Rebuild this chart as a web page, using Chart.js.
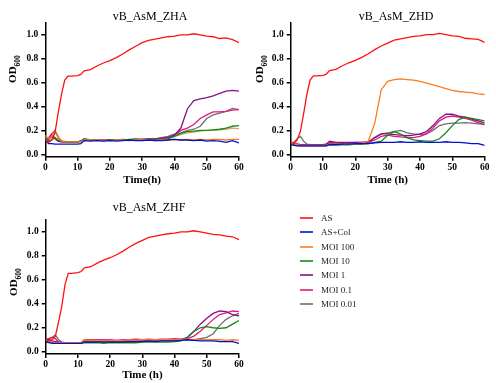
<!DOCTYPE html>
<html>
<head>
<meta charset="utf-8">
<script src="https://cdn.jsdelivr.net/npm/chart.js@4/dist/chart.umd.min.js"></script>
<style>
    body { margin: 0; background: #fff; }
    #wrap { position: relative; width: 496px; height: 383px; overflow: hidden; font-family: "Liberation Serif", serif; color: #000; }
    canvas { position: absolute; }
    .ttl { position: absolute; width: 200px; text-align: center; font-size: 12px; line-height: 14px; }
    .ylab { position: absolute; transform: translate(-50%, -50%) rotate(-90deg); font-size: 11px; font-weight: bold; white-space: nowrap; }
    .ylab sub { font-size: 7.5px; }
    .leg { position: absolute; left: 300px; font-size: 9px; line-height: 12px; }
    .leg span.ln { position: absolute; left: 0; top: 5px; width: 13px; height: 2px; opacity: 0.8; }
    .leg span.tx { position: absolute; left: 21px; top: 0; white-space: nowrap; color: #222; }
</style>
</head>
<body>
<div id="wrap">
    <canvas id="c1" width="248" height="190" style="left:0;top:0"></canvas>
    <canvas id="c2" width="248" height="190" style="left:248px;top:0"></canvas>
    <canvas id="c3" width="248" height="193" style="left:0;top:190px"></canvas>
    <div class="ttl" style="left:50px;top:9px">vB_AsM_ZHA</div>
    <div class="ttl" style="left:296px;top:9px">vB_AsM_ZHD</div>
    <div class="ttl" style="left:49px;top:200px">vB_AsM_ZHF</div>
    <div class="ylab" style="left:14px;top:69px">OD<sub>600</sub></div>
    <div class="ylab" style="left:261px;top:69px">OD<sub>600</sub></div>
    <div class="ylab" style="left:15px;top:282px">OD<sub>600</sub></div>
    <div id="legend"></div>
</div>
<script>
// time points (h)
const T = [0, 1, 2, 3, 4, 5, 6, 7, 8, 10, 11, 12, 14, 16, 18, 20, 22, 24, 26, 28, 30, 32, 34, 36, 38, 40, 42, 44, 46, 48, 50, 52, 54, 56, 58, 60];
const X_TICKS = [0, 10, 20, 30, 40, 50, 60];
const Y_TICKS = [0, 0.2, 0.4, 0.6, 0.8, 1.0];
const SERIES = ['AS', 'AS+Col', 'MOI 100', 'MOI 10', 'MOI 1', 'MOI 0.1', 'MOI 0.01'];

// vB_AsM_ZHA
const ZHA_AS = [0.12, 0.10, 0.12, 0.18, 0.35, 0.50, 0.62, 0.655, 0.655, 0.66, 0.67, 0.70, 0.71, 0.74, 0.765, 0.785, 0.81, 0.84, 0.875, 0.905, 0.935, 0.955, 0.965, 0.975, 0.985, 0.99, 1.0, 1.0, 1.01, 1.0, 0.99, 0.985, 0.97, 0.975, 0.96, 0.935];
const ZHA_COL = [0.12, 0.09, 0.09, 0.085, 0.085, 0.085, 0.085, 0.085, 0.085, 0.085, 0.09, 0.115, 0.11, 0.115, 0.11, 0.115, 0.11, 0.115, 0.12, 0.115, 0.115, 0.12, 0.115, 0.115, 0.12, 0.125, 0.12, 0.12, 0.115, 0.12, 0.11, 0.115, 0.11, 0.10, 0.115, 0.095];
const ZHA_M100 = [0.16, 0.13, 0.15, 0.19, 0.14, 0.11, 0.105, 0.105, 0.105, 0.105, 0.105, 0.12, 0.12, 0.12, 0.12, 0.115, 0.12, 0.12, 0.115, 0.12, 0.12, 0.12, 0.115, 0.12, 0.12, 0.125, 0.12, 0.125, 0.12, 0.125, 0.12, 0.125, 0.125, 0.12, 0.125, 0.125];
const ZHA_M10 = [0.14, 0.11, 0.12, 0.14, 0.12, 0.11, 0.105, 0.105, 0.105, 0.105, 0.11, 0.13, 0.12, 0.12, 0.115, 0.12, 0.12, 0.12, 0.125, 0.13, 0.12, 0.125, 0.125, 0.125, 0.13, 0.15, 0.175, 0.19, 0.195, 0.2, 0.2, 0.205, 0.21, 0.22, 0.235, 0.24];
const ZHA_M1 = [0.13, 0.12, 0.15, 0.13, 0.11, 0.105, 0.105, 0.105, 0.105, 0.105, 0.11, 0.125, 0.12, 0.12, 0.12, 0.12, 0.12, 0.125, 0.12, 0.125, 0.125, 0.13, 0.13, 0.135, 0.14, 0.16, 0.22, 0.38, 0.45, 0.465, 0.475, 0.49, 0.51, 0.53, 0.535, 0.53];
const ZHA_M01 = [0.12, 0.14, 0.17, 0.14, 0.11, 0.105, 0.105, 0.105, 0.105, 0.105, 0.11, 0.125, 0.12, 0.12, 0.12, 0.12, 0.12, 0.12, 0.12, 0.125, 0.125, 0.125, 0.13, 0.13, 0.14, 0.16, 0.2, 0.22, 0.25, 0.3, 0.33, 0.355, 0.355, 0.36, 0.37, 0.375];
const ZHA_M001 = [0.13, 0.13, 0.17, 0.2, 0.14, 0.11, 0.105, 0.105, 0.105, 0.105, 0.11, 0.12, 0.12, 0.12, 0.12, 0.12, 0.12, 0.12, 0.12, 0.12, 0.125, 0.125, 0.13, 0.14, 0.15, 0.17, 0.18, 0.2, 0.21, 0.235, 0.3, 0.33, 0.345, 0.36, 0.385, 0.375];
const ZHA_EXTRA = [0.15, 0.13, 0.16, 0.2, 0.15, 0.115, 0.11, 0.105, 0.105, 0.105, 0.11, 0.12, 0.12, 0.12, 0.12, 0.12, 0.12, 0.12, 0.12, 0.12, 0.125, 0.125, 0.125, 0.13, 0.14, 0.15, 0.165, 0.18, 0.185, 0.195, 0.2, 0.2, 0.205, 0.21, 0.22, 0.215];

// vB_AsM_ZHD
const ZHD_AS = [0.10, 0.09, 0.12, 0.19, 0.34, 0.50, 0.62, 0.655, 0.655, 0.66, 0.67, 0.70, 0.71, 0.74, 0.765, 0.785, 0.81, 0.84, 0.875, 0.905, 0.93, 0.955, 0.965, 0.975, 0.985, 0.99, 1.0, 1.0, 1.01, 1.0, 0.99, 0.985, 0.97, 0.965, 0.96, 0.935];
const ZHD_COL = [0.08, 0.075, 0.07, 0.07, 0.07, 0.07, 0.07, 0.07, 0.07, 0.07, 0.07, 0.08, 0.08, 0.085, 0.085, 0.09, 0.09, 0.09, 0.095, 0.1, 0.1, 0.1, 0.105, 0.1, 0.1, 0.105, 0.1, 0.1, 0.1, 0.105, 0.1, 0.1, 0.095, 0.09, 0.09, 0.075];
const ZHD_M100 = [0.10, 0.09, 0.08, 0.075, 0.075, 0.075, 0.075, 0.075, 0.075, 0.075, 0.075, 0.08, 0.085, 0.085, 0.085, 0.09, 0.095, 0.11, 0.26, 0.54, 0.61, 0.625, 0.63, 0.625, 0.62, 0.61, 0.595, 0.58, 0.565, 0.55, 0.535, 0.525, 0.52, 0.515, 0.505, 0.5];
const ZHD_M10 = [0.09, 0.08, 0.075, 0.07, 0.07, 0.07, 0.07, 0.07, 0.07, 0.07, 0.07, 0.08, 0.08, 0.08, 0.08, 0.085, 0.085, 0.09, 0.1, 0.11, 0.16, 0.19, 0.17, 0.14, 0.12, 0.115, 0.11, 0.11, 0.13, 0.18, 0.24, 0.29, 0.31, 0.3, 0.29, 0.28];
const ZHD_M1 = [0.1, 0.09, 0.085, 0.08, 0.08, 0.08, 0.08, 0.08, 0.08, 0.08, 0.085, 0.11, 0.1, 0.1, 0.1, 0.1, 0.1, 0.105, 0.14, 0.17, 0.17, 0.165, 0.16, 0.155, 0.16, 0.17, 0.19, 0.24, 0.3, 0.335, 0.335, 0.32, 0.31, 0.295, 0.28, 0.26];
const ZHD_M01 = [0.1, 0.09, 0.085, 0.08, 0.08, 0.08, 0.08, 0.08, 0.08, 0.08, 0.085, 0.1, 0.095, 0.095, 0.095, 0.1, 0.1, 0.1, 0.12, 0.15, 0.16, 0.15, 0.145, 0.14, 0.14, 0.15, 0.17, 0.22, 0.28, 0.31, 0.32, 0.31, 0.3, 0.285, 0.265, 0.245];
const ZHD_M001 = [0.1, 0.1, 0.13, 0.15, 0.11, 0.085, 0.08, 0.08, 0.08, 0.08, 0.08, 0.09, 0.09, 0.09, 0.09, 0.09, 0.09, 0.095, 0.14, 0.17, 0.18, 0.19, 0.2, 0.18, 0.17, 0.165, 0.17, 0.2, 0.24, 0.255, 0.26, 0.26, 0.265, 0.26, 0.255, 0.25];

// vB_AsM_ZHF
const ZHF_AS = [0.10, 0.09, 0.10, 0.13, 0.25, 0.38, 0.56, 0.655, 0.655, 0.66, 0.67, 0.70, 0.71, 0.74, 0.765, 0.785, 0.81, 0.84, 0.875, 0.905, 0.93, 0.955, 0.965, 0.975, 0.985, 0.99, 1.0, 1.0, 1.01, 1.0, 0.99, 0.98, 0.975, 0.965, 0.96, 0.935];
const ZHF_COL = [0.08, 0.075, 0.07, 0.07, 0.07, 0.07, 0.07, 0.07, 0.07, 0.07, 0.07, 0.08, 0.08, 0.08, 0.08, 0.08, 0.08, 0.08, 0.085, 0.085, 0.085, 0.09, 0.085, 0.09, 0.09, 0.09, 0.095, 0.1, 0.095, 0.09, 0.09, 0.09, 0.085, 0.085, 0.085, 0.07];
const ZHF_M100 = [0.1, 0.09, 0.08, 0.075, 0.075, 0.075, 0.075, 0.075, 0.075, 0.075, 0.075, 0.1, 0.095, 0.095, 0.095, 0.095, 0.095, 0.095, 0.1, 0.095, 0.1, 0.1, 0.1, 0.1, 0.1, 0.1, 0.1, 0.105, 0.1, 0.1, 0.1, 0.1, 0.1, 0.095, 0.1, 0.095];
const ZHF_M10 = [0.09, 0.08, 0.075, 0.07, 0.07, 0.07, 0.07, 0.07, 0.07, 0.07, 0.07, 0.075, 0.075, 0.075, 0.07, 0.075, 0.075, 0.075, 0.075, 0.075, 0.08, 0.08, 0.08, 0.08, 0.08, 0.085, 0.09, 0.12, 0.17, 0.2, 0.21, 0.2, 0.195, 0.2, 0.23, 0.26];
const ZHF_M1 = [0.1, 0.1, 0.09, 0.085, 0.08, 0.075, 0.075, 0.075, 0.075, 0.075, 0.075, 0.09, 0.09, 0.09, 0.09, 0.09, 0.09, 0.09, 0.09, 0.09, 0.09, 0.09, 0.095, 0.095, 0.095, 0.1, 0.1, 0.12, 0.17, 0.23, 0.28, 0.32, 0.34, 0.335, 0.31, 0.3];
const ZHF_M01 = [0.1, 0.11, 0.12, 0.11, 0.08, 0.075, 0.075, 0.075, 0.075, 0.075, 0.075, 0.1, 0.1, 0.1, 0.1, 0.1, 0.095, 0.1, 0.1, 0.105, 0.1, 0.105, 0.1, 0.105, 0.105, 0.11, 0.105, 0.11, 0.13, 0.17, 0.22, 0.27, 0.31, 0.325, 0.34, 0.335];
const ZHF_M001 = [0.1, 0.11, 0.12, 0.14, 0.1, 0.08, 0.075, 0.075, 0.075, 0.075, 0.075, 0.085, 0.085, 0.085, 0.085, 0.085, 0.085, 0.085, 0.085, 0.09, 0.09, 0.09, 0.09, 0.09, 0.09, 0.095, 0.1, 0.1, 0.1, 0.11, 0.12, 0.15, 0.22, 0.27, 0.3, 0.32];

const COLORS = ['#ff1010', '#0010d0', '#ff7a1c', '#138a13', '#861086', '#e0187c', '#6e6e6e'];
const EXTRA_COLOR = '#d9a868';

const FONT = 'Liberation Serif';

function toPoints(vals) {
    return T.map((t, i) => ({ x: t, y: vals[i] }));
}

function makePanel(id, series, xTitle, box, extra) {
    const datasets = series.map((vals, i) => ({
        label: SERIES[i],
        data: toPoints(vals),
        borderColor: COLORS[i],
        backgroundColor: COLORS[i]
    }));
    if (extra) {
        // extra tan trace visible only in ZHA (not in legend)
        datasets.push({ label: '', data: toPoints(extra), borderColor: EXTRA_COLOR, backgroundColor: EXTRA_COLOR });
    }
    const axisCommon = {
        grid: { drawOnChartArea: false, drawTicks: true, tickLength: 4, color: '#000', lineWidth: 1.5 },
        border: { color: '#000', width: 1.5 },
        ticks: { color: '#000', font: { family: FONT, weight: 'bold', size: 9.5 }, maxRotation: 0 }
    };
    new Chart(document.getElementById(id), {
        type: 'line',
        data: { datasets: datasets },
        options: {
            responsive: false,
            animation: false,
            layout: { padding: { left: 0, right: box.pr, top: box.top, bottom: box.pb } },
            plugins: { legend: { display: false }, tooltip: { enabled: false } },
            elements: { point: { radius: 0 }, line: { borderWidth: 1.3, tension: 0 } },
            scales: {
                x: {
                    ...axisCommon,
                    type: 'linear', min: 0, max: 60,
                    ticks: { ...axisCommon.ticks, padding: 1 },
                    afterBuildTicks: s => { s.ticks = X_TICKS.map(v => ({ value: v })); },
                    afterFit: s => { s.height = box.xh; },
                    title: { display: true, text: xTitle, color: '#000', font: { family: FONT, weight: 'bold', size: 11 }, padding: 0 }
                },
                y: {
                    ...axisCommon,
                    type: 'linear', min: -0.02, max: 1.1,
                    ticks: { ...axisCommon.ticks, padding: 3, callback: v => Number(v).toFixed(1) },
                    afterBuildTicks: s => { s.ticks = Y_TICKS.map(v => ({ value: v })); },
                    afterFit: s => { s.width = box.yw; }
                }
            }
        }
    });
}

makePanel('c1', [ZHA_AS, ZHA_COL, ZHA_M100, ZHA_M10, ZHA_M1, ZHA_M01, ZHA_M001], 'Time(h)',
    { yw: 45.3, pr: 9, top: 23, pb: 3.3, xh: 30 }, ZHA_EXTRA);
makePanel('c2', [ZHD_AS, ZHD_COL, ZHD_M100, ZHD_M10, ZHD_M1, ZHD_M01, ZHD_M001], 'Time (h)',
    { yw: 42.7, pr: 11.3, top: 22.7, pb: 3.3, xh: 30 });
makePanel('c3', [ZHF_AS, ZHF_COL, ZHF_M100, ZHF_M10, ZHF_M1, ZHF_M01, ZHF_M001], 'Time (h)',
    { yw: 45.7, pr: 9, top: 30, pb: 1.4, xh: 27.5 });

// legend
const legend = document.getElementById('legend');
SERIES.forEach((name, i) => {
    const row = document.createElement('div');
    row.className = 'leg';
    row.style.top = (211.7 + i * 14.4) + 'px';
    row.innerHTML = '<span class="ln" style="background:' + COLORS[i] + '"></span><span class="tx">' + name + '</span>';
    legend.appendChild(row);
});
</script>
</body>
</html>
